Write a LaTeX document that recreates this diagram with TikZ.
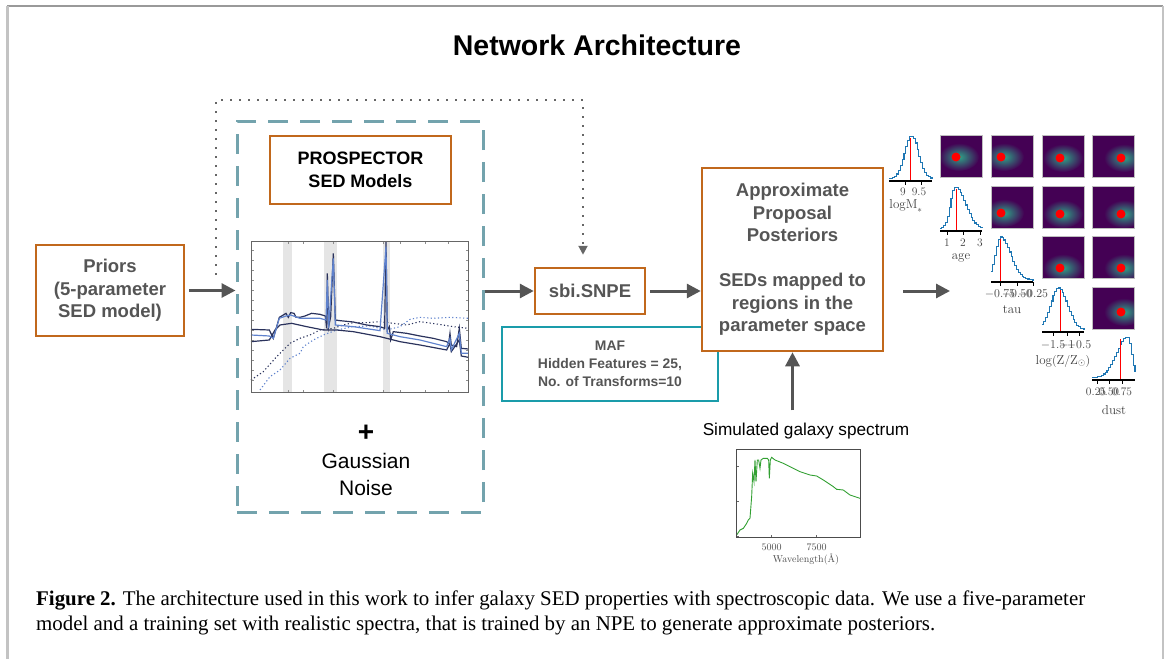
\documentclass[tikz,border=0pt]{standalone}
\usepackage{fontspec}
\usetikzlibrary{arrows.meta}
\newfontfamily\hv{Liberation Sans}
\newfontfamily\capfont{Liberation Serif}
\definecolor{boxorange}{RGB}{193,104,28}
\definecolor{txtgrey}{RGB}{85,85,85}
\definecolor{dashteal}{RGB}{115,163,173}
\definecolor{mafteal}{RGB}{26,156,170}
\definecolor{navyline}{RGB}{42,50,92}
\definecolor{blueline}{RGB}{95,130,205}
\definecolor{specgreen}{RGB}{50,160,50}
\definecolor{histblue}{RGB}{31,119,180}
\definecolor{vpurple}{RGB}{68,1,84}
\definecolor{vgreen}{RGB}{45,165,135}
\definecolor{framegrey}{RGB}{195,195,195}

\begin{document}
\begin{tikzpicture}[x=1pt,y=-1pt,
  orangebox/.style={draw=boxorange,line width=2.5pt,fill=white,inner sep=0pt,align=center,
    text=txtgrey,font=\hv\bfseries\fontsize{18.5}{22.5}\selectfont},
  flow/.style={draw=txtgrey,line width=3pt,-{Triangle[length=14pt,width=14pt]}},
  feedback/.style={draw=txtgrey!90,line width=2pt,dash pattern=on 2pt off 7pt,
    -{Triangle[length=9pt,width=9pt]}},
  ticklab/.style={font=\fontsize{11.5}{12}\selectfont,inner sep=0pt},
  parlab/.style={font=\fontsize{13}{14}\selectfont,inner sep=0pt}]

\useasboundingbox (0,0) rectangle (1170,659);

% page frame
\draw[black!40,line width=1.2pt] (7,6) -- (1163,6);
\draw[framegrey,line width=2.2pt] (7.5,6) -- (7.5,659);
\draw[framegrey,line width=2.2pt] (1163,6) -- (1163,659);

\node[font=\hv\bfseries\fontsize{28.5}{34}\selectfont] (title) at (597,45) {Network Architecture};

% boxes
\node[orangebox,minimum width=148pt,minimum height=91pt] (priors) at (110,290.5)
  {Priors\\(5-parameter\\SED model)};
\node[draw=dashteal,line width=3pt,dash pattern=on 20pt off 12pt,minimum width=246pt,
  minimum height=391pt] (sedbox) at (360,316.5) {};
\node[orangebox,text=black,font=\hv\bfseries\fontsize{18}{23}\selectfont,
  minimum width=181pt,minimum height=68pt] (prospector) at (360.5,170) {PROSPECTOR\\SED Models};
\node[align=center,font=\hv\fontsize{21}{27}\selectfont] (noise) at (366,460)
  {{\bfseries\fontsize{28}{27}\selectfont +}\\Gaussian\\Noise};
\node[orangebox,minimum width=110pt,minimum height=46pt] (snpe) at (590,291) {sbi.SNPE};
\node[draw=mafteal,line width=2.5pt,inner sep=0pt,align=center,text=txtgrey,
  font=\hv\bfseries\fontsize{13.9}{18}\selectfont,minimum width=216pt,minimum height=74pt]
  (maf) at (610,364) {MAF\\Hidden Features = 25,\\No. of Transforms=10};
\node[orangebox,minimum width=181pt,minimum height=183pt] (approx) at (792.5,259.5)
  {Approximate\\Proposal\\Posteriors\\[22.5pt]SEDs mapped to\\regions in the\\parameter space};
\node[font=\hv\fontsize{17.2}{20}\selectfont] (simlabel) at (806,431) {Simulated galaxy spectrum};

% connectors
\coordinate (fbstart) at (216,275);
\coordinate (fbtop) at (583,100);
\coordinate (cornerL) at (903,291);
\coordinate (cornerR) at (950,291);
\draw[flow,shorten <=4pt] (priors.east) -- (priors.east -| sedbox.west);
\draw[flow] (sedbox.east |- snpe.west) -- (snpe.west);
\draw[flow,shorten <=4pt] (snpe.east) -- (snpe.east -| approx.west);
\draw[flow,shorten <=9pt] (approx.south |- simlabel.north) -- (approx.south);
\draw[flow] (cornerL) -- (cornerR);
\draw[feedback,shorten >=12pt] (fbstart) |- (fbtop) -- (fbtop |- snpe.north);

% SED model spectra
\begin{scope}[shift={(220,230)},x=0.3333pt,y=-0.3333pt]
\fill[black!10] (190,33) rectangle (215,488);
\fill[black!10] (313,33) rectangle (352,488);
\fill[black!10] (488,33) rectangle (510,488);
\foreach \ty in {60,90,...,460}{
  \draw[black!45,line width=0.4pt] (93,\ty) -- (101,\ty);
  \draw[black!45,line width=0.4pt] (745,\ty) -- (737,\ty);}
\foreach \tx in {205,250,340,490,540,615,685}{
  \draw[black!45,line width=0.4pt] (\tx,488) -- (\tx,480);
  \draw[black!45,line width=0.4pt] (\tx,33) -- (\tx,41);}
\draw[navyline,line width=1.1pt,dash pattern=on 1.2pt off 2.4pt] (93,450) -- (130,425) -- (170,380)
  -- (210,340) -- (240,325) -- (270,315) -- (300,300) -- (340,295) -- (370,285) -- (400,278)
  -- (440,278) -- (480,275) -- (520,280) -- (560,285) -- (600,275) -- (650,282) -- (700,290)
  -- (745,295);
\draw[blueline,line width=1.1pt,dash pattern=on 1.2pt off 2.4pt] (120,480) -- (150,440) -- (180,420)
  -- (210,385) -- (240,370) -- (250,350) -- (280,330) -- (310,315) -- (350,300) -- (400,290)
  -- (450,288) -- (500,300) -- (540,290) -- (570,268) -- (600,262) -- (640,265) -- (690,262)
  -- (745,265);
\draw[navyline,line width=1.2pt] (93,335) -- (148,330) -- (165,300) -- (180,285) -- (215,280)
  -- (260,290) -- (310,300) -- (350,300) -- (400,305) -- (480,320) -- (540,335) -- (600,345)
  -- (680,360) -- (690,340) -- (694,365) -- (718,330) -- (724,378) -- (745,382);
\draw[navyline,line width=1.2pt] (93,298) -- (148,300) -- (160,325) -- (178,262) -- (190,255)
  -- (198,250) -- (205,262) -- (212,248) -- (222,250) -- (228,262) -- (240,262) -- (255,258)
  -- (275,250) -- (300,253) -- (316,258) -- (320,295) -- (322,130) -- (326,290) -- (332,260)
  -- (340,70) -- (346,270) -- (360,272) -- (400,276) -- (440,285) -- (480,290) -- (494,295)
  -- (498,35) -- (502,300) -- (508,290) -- (512,330) -- (520,305) -- (560,310) -- (600,318)
  -- (640,325) -- (680,335) -- (686,340) -- (690,310) -- (694,345) -- (710,350) -- (718,295)
  -- (724,355) -- (745,357);
\draw[blueline,line width=1.2pt] (93,315) -- (148,318) -- (160,325) -- (178,265) -- (198,258)
  -- (212,255) -- (240,265) -- (300,265) -- (318,270) -- (322,150) -- (326,295) -- (340,85)
  -- (346,285) -- (400,290) -- (480,302) -- (498,50) -- (502,310) -- (540,320) -- (600,330)
  -- (680,350) -- (690,325) -- (694,360) -- (718,310) -- (724,370) -- (745,370);
\draw[black!60,line width=0.8pt] (93,33) rectangle (745,488);
\end{scope}

% simulated galaxy spectrum
\begin{scope}[shift={(690,410)},x=0.3333pt,y=-0.3333pt]
\draw[specgreen,line width=0.9pt] (140,375) -- (150,360) -- (160,355) -- (170,340) -- (175,330)
  -- (180,325) -- (185,260) -- (188,190) -- (192,215) -- (195,150) -- (198,215) -- (202,150)
  -- (206,150) -- (210,175) -- (213,150) -- (220,145) -- (232,145) -- (236,150) -- (238,205)
  -- (241,150) -- (245,142) -- (255,150) -- (280,160) -- (300,170) -- (330,185) -- (360,195)
  -- (380,198) -- (400,210) -- (430,230) -- (440,238) -- (460,240) -- (480,255) -- (510,265);
\foreach \ty in {168,275,380}{
  \draw[black!60,line width=0.4pt] (140,\ty) -- (148,\ty);}
\foreach \tx in {245,380}{
  \draw[black!60,line width=0.4pt] (\tx,383) -- (\tx,375);}
\draw[black!70,line width=0.8pt] (140,118) rectangle (510,383);
\node[ticklab,font=\fontsize{10}{11}\selectfont,text=black!70] (w5) at (245,412) {5000};
\node[ticklab,font=\fontsize{10}{11}\selectfont,text=black!70] (w7) at (380,412) {7500};
\node[ticklab,font=\fontsize{10}{11}\selectfont,text=black!70] (wlab) at (348,448) {Wavelength(\AA)};
\end{scope}

% corner plot: 2D panels
\foreach \sx/\sy/\px/\py in {940/135/956/157, 991/135/1001/157, 1042/135/1060/158, 1092/135/1121/158,
  991/186/1001/213, 1042/186/1060/214, 1092/186/1121/214,
  1042/236/1060/268, 1092/236/1121/268, 1092/287/1121/312}{
  \begin{scope}
  \clip (\sx,\sy) rectangle (\sx+42,\sy+42);
  \fill[vpurple] (\sx,\sy) rectangle (\sx+42,\sy+42);
  \shade[inner color=vgreen,outer color=vpurple] (\px+3,\py) ellipse [x radius=20pt,y radius=14pt];
  \end{scope}
  \draw[black!25,line width=0.4pt] (\sx,\sy) rectangle (\sx+42,\sy+42);
  \fill[red] (\px,\py) circle (4.5pt);
}

% corner plot: 1D histograms
\foreach \xl/\xr/\ay/\mu/\ht/\sl/\sr/\rx in {889/932/181/911/43/7/7/910, 940/982/231/955/42/5/10/956,
  991/1033/282/1000/43/5/10/1000, 1042/1084/332/1058/42/8/9/1060, 1092/1135/380/1127/41/11/4/1120}{
  \draw[histblue,line width=1.1pt] plot[const plot,domain=\xl:\xr,samples=24]
    (\x,{\ay-2-\ht*exp(-0.5*(\x-\mu)*(\x-\mu)/(((\x<\mu)?\sl:\sr)^2))});
  \draw[red,line width=0.8pt] (\rx,\ay) -- (\rx,\ay-\ht);
  \draw[black,line width=1.3pt] (\xl,\ay) -- (\xr,\ay);
}
\foreach \tx/\ty in {905/181,921/181,947/231,963/231,980/231,1000/282,1017/282,1033/282,
  1053/332,1067/332,1079/332,1097/380,1109/380,1122/380}{
  \draw[black,line width=0.8pt] (\tx,\ty) -- (\tx,\ty+4);}
\foreach \tx/\ty/\tl [count=\i] in {903/192/9, 919/192/9.5, 947/243/1, 963/243/2, 980/243/3,
  1000/294/$-0.75$, 1017/294/$-0.50$, 1033/294/$-0.25$, 1053/345/$-1.5$, 1067/345/$-1$,
  1079/345/$-0.5$, 1096/392/0.25, 1109/392/0.50, 1122/392/0.75}{
  \node[ticklab,text=black!75] (tick\i) at (\tx,\ty) {\tl};}
\node[parlab,text=black!75] (plogm) at (906,206) {$\mathrm{logM}_*$};
\node[parlab,text=black!75] (page) at (961,258) {age};
\node[parlab,text=black!75] (ptau) at (1012,310) {tau};
\node[parlab,text=black!75] (plogz) at (1063,361) {$\mathrm{log(Z/Z_\odot)}$};
\node[parlab,text=black!75] (pdust) at (1114,410) {dust};

% caption
\node[anchor=west,align=left,inner sep=0pt,font=\capfont\fontsize{20.9}{25}\selectfont]
  (caption) at (36,612.5) {\textbf{Figure 2.} The architecture used in this work to infer galaxy SED
  properties with spectroscopic data. We use a five-parameter\\model and a training set with
  realistic spectra, that is trained by an NPE to generate approximate posteriors.};

\end{tikzpicture}
\end{document}
